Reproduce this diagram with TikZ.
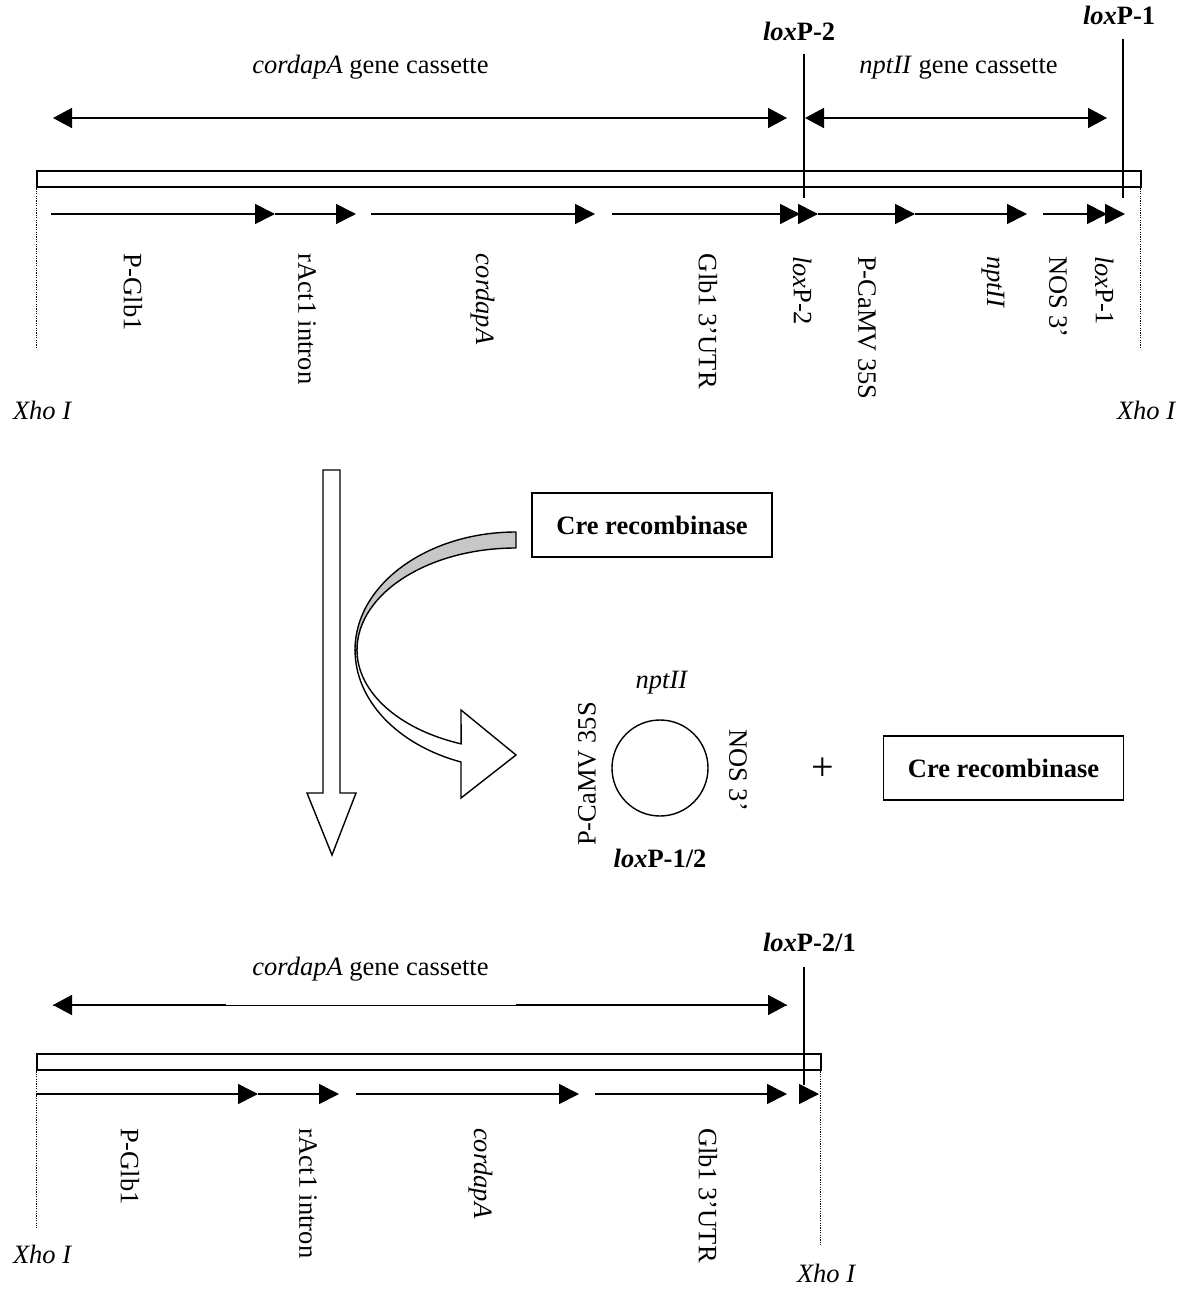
\documentclass[tikz,border=0pt]{standalone}
\usepackage{fontspec}
\setmainfont{Liberation Serif}
\usetikzlibrary{arrows.meta}
\begin{document}
\begin{tikzpicture}[x=1pt,y=1pt,
  lbl/.style={font=\fontsize{26.5}{30}\selectfont, inner sep=0pt, outer sep=0pt},
  vlbl/.style={lbl, rotate=-90, anchor=west},
  ulbl/.style={lbl, rotate=90},
  dnabar/.style={draw, line width=1.6pt, fill=white, inner sep=0pt, minimum height=16pt, anchor=north west},
  feat/.style={line width=1.6pt, -{Triangle[length=20pt,width=20pt]}},
  span/.style={line width=1.8pt, {Triangle[length=19pt,width=20pt]}-{Triangle[length=19pt,width=20pt]}},
  thinspan/.style={line width=1pt},
  loxtick/.style={line width=1.6pt},
  xhodots/.style={line width=0.9pt, dash pattern=on 1.2pt off 1.2pt},
  crebox/.style={draw, line width=1.6pt, minimum width=240pt, minimum height=64pt, inner sep=0pt,
                 font=\fontsize{26.5}{30}\selectfont\bfseries},
  blockarrow/.style={draw, line width=1.4pt, fill=white, line join=miter},
]
\useasboundingbox (0,0) rectangle (1191,-1289);

% ================= TOP CONSTRUCT =================
\node[lbl, anchor=base] (cas1) at (370.5,-74) {\textit{cordapA} gene cassette};
\node[lbl, anchor=base] (cas2) at (958.5,-74) {\textit{nptII} gene cassette};
\node[lbl, anchor=base west] (lox2lab) at (763,-41) {\textbf{\textit{lox}P-2}};
\node[lbl, anchor=base west] (lox1lab) at (1083,-25) {\textbf{\textit{lox}P-1}};

\coordinate (sp1a) at (53,-118);  \coordinate (sp1b) at (787,-118);
\coordinate (sp2a) at (805,-118); \coordinate (sp2b) at (1107,-118);
\draw[span] (sp1a) -- (sp1b);
\draw[span] (sp2a) -- (sp2b);

\node[dnabar, minimum width=1104pt] (bar1) at (36,-170) {};

\coordinate (l2t) at (804,-54);  \coordinate (l2b) at (804,-198);
\coordinate (l1t) at (1123,-39); \coordinate (l1b) at (1123,-198);
\draw[loxtick] (l2t) -- (l2b);
\draw[loxtick] (l1t) -- (l1b);

\coordinate (xl1t) at (36,-186);   \coordinate (xl1b) at (36,-347);
\coordinate (xr1t) at (1140,-186); \coordinate (xr1b) at (1140,-347);
\draw[xhodots] (xl1t) -- (xl1b);
\draw[xhodots] (xr1t) -- (xr1b);

\foreach \a/\b [count=\i] in {51/275, 275/356, 371/595, 612/800, 798/818, 818/915, 915/1027, 1043/1107, 1105/1125}{
  \coordinate (ft\i s) at (\a,-214);
  \coordinate (ft\i e) at (\b,-214);
  \draw[feat] (ft\i s) -- (ft\i e);
}

\node[vlbl] (t1) at (133,-254) {P-Glb1};
\node[vlbl] (t2) at (307,-254) {rAct1 intron};
\node[vlbl] (t3) at (483,-254) {\textit{cordapA}};
\node[vlbl] (t4) at (708,-254) {Glb1 3’UTR};
\node[vlbl] (t5) at (803,-256) {\textit{lox}P-2};
\node[vlbl] (t6) at (867,-256) {P-CaMV 35S};
\node[vlbl] (t7) at (993,-256) {\textit{nptII}};
\node[vlbl] (t8) at (1058,-256) {NOS 3’};
\node[vlbl] (t9) at (1105,-256) {\textit{lox}P-1};

\node[lbl, anchor=base west] (xho1) at (13,-419) {\textit{Xho I}};
\node[lbl, anchor=base west] (xho2) at (1117,-419) {\textit{Xho I}};

% ================= MIDDLE =================
\draw[blockarrow] (323,-470) -- (340,-470) -- (340,-793) -- (356,-793) -- (332,-855)
   -- (307,-793) -- (323,-793) -- cycle;

\node[crebox] (cre1) at (652,-525) {Cre recombinase};

% curved arrow: lower white part with head
\draw[blockarrow] (357,-650) arc[start angle=180, end angle=249.8, x radius=159, y radius=100]
   -- (461,-710) -- (516,-755) -- (461,-798) -- (461,-762)
   arc[start angle=250, end angle=180, x radius=161, y radius=119] -- cycle;
% curved arrow: upper grey part (back side of the band)
\coordinate (crvstart) at (516,-532);
\draw[line width=1.4pt, fill=black!22, line join=round]
   (crvstart) arc[start angle=90, end angle=180, x radius=161, y radius=118]
   -- (357,-650) arc[start angle=180, end angle=90, x radius=159, y radius=102] -- cycle;

\node[draw, circle, line width=1.4pt, minimum size=96pt, inner sep=0pt] (ring) at (660,-768) {};
\node[lbl] (ringtop) at (662,-683) {\textit{nptII}};
\node[ulbl] (ringleft) at (587,-774) {P-CaMV 35S};
\node[lbl, rotate=-90] (ringright) at (738,-770) {NOS 3’};
\node[lbl, anchor=base] (ringbot) at (660,-867) {\textbf{\textit{lox}P-1/2}};

\node[lbl, font=\fontsize{40}{42}\selectfont] (plus) at (823,-769) {+};
\node[crebox] (cre2) at (1003.5,-768) {Cre recombinase};

% ================= BOTTOM CONSTRUCT =================
\node[lbl, anchor=base] (cas3) at (370.5,-975) {\textit{cordapA} gene cassette};
\node[lbl, anchor=base west] (lox21lab) at (763,-951) {\textbf{\textit{lox}P-2/1}};

\coordinate (sp3a) at (53,-1005); \coordinate (sp3b) at (787,-1005);
\coordinate (sp3m1) at (226,-1005); \coordinate (sp3m2) at (516,-1005);
\draw[thinspan] (sp3a) -- (sp3b);
\draw[line width=1.8pt, {Triangle[length=19pt,width=20pt]}-] (sp3a) -- (sp3m1);
\draw[line width=1.8pt, -{Triangle[length=19pt,width=20pt]}] (sp3m2) -- (sp3b);

\node[dnabar, minimum width=784pt] (bar2) at (36,-1053) {};

\coordinate (l21t) at (804,-967); \coordinate (l21b) at (804,-1085);
\draw[loxtick] (l21t) -- (l21b);

\coordinate (xl2t) at (36,-1069);  \coordinate (xl2b) at (36,-1228);
\coordinate (xr2t) at (820,-1069); \coordinate (xr2b) at (820,-1245);
\draw[xhodots] (xl2t) -- (xl2b);
\draw[xhodots] (xr2t) -- (xr2b);

\foreach \a/\b [count=\i] in {36/258, 258/339, 356/579, 595/787, 799/819}{
  \coordinate (fb\i s) at (\a,-1094);
  \coordinate (fb\i e) at (\b,-1094);
  \draw[feat] (fb\i s) -- (fb\i e);
}

\node[vlbl] (b1) at (130,-1128) {P-Glb1};
\node[vlbl] (b2) at (308,-1128) {rAct1 intron};
\node[vlbl] (b3) at (481,-1128) {\textit{cordapA}};
\node[vlbl] (b4) at (708,-1128) {Glb1 3’UTR};

\node[lbl, anchor=base west] (xho3) at (13,-1263) {\textit{Xho I}};
\node[lbl, anchor=base west] (xho4) at (797,-1282) {\textit{Xho I}};
\end{tikzpicture}
\end{document}
